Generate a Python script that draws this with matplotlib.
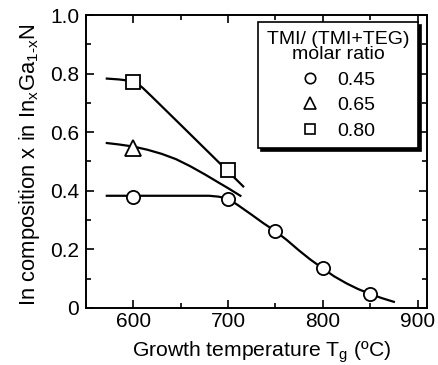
import matplotlib
matplotlib.use("Agg")
import matplotlib.pyplot as plt
from matplotlib.lines import Line2D
from matplotlib.ticker import MultipleLocator, FixedLocator

plt.rcParams["font.family"] = ["Liberation Sans", "DejaVu Sans"]
plt.rcParams["mathtext.fontset"] = "custom"
plt.rcParams["mathtext.rm"] = "Liberation Sans"
plt.rcParams["mathtext.it"] = "Liberation Sans"

# Measured In composition vs growth temperature, per TMI/(TMI+TEG) ratio
temps_045 = [600, 700, 750, 800, 850]
comp_045 = [0.378, 0.372, 0.263, 0.135, 0.048]
temps_065 = [600]
comp_065 = [0.547]
temps_080 = [600, 700]
comp_080 = [0.772, 0.470]

# Guide curves through each series
guide_045_t = [572, 600, 650, 680, 690, 700, 710, 725, 737, 750, 762, 775,
               787, 800, 812, 825, 837, 850, 862, 875]
guide_045_x = [0.383, 0.383, 0.383, 0.383, 0.380, 0.373, 0.352, 0.318, 0.290,
               0.262, 0.232, 0.196, 0.165, 0.135, 0.108, 0.084, 0.065, 0.048,
               0.034, 0.021]
guide_065_t = [572, 585, 600, 615, 630, 645, 660, 676, 690, 700, 713]
guide_065_x = [0.563, 0.558, 0.551, 0.540, 0.526, 0.508, 0.484, 0.455, 0.428,
               0.409, 0.383]
guide_080_t = [572, 585, 595, 600, 605, 610, 620, 650, 700, 716]
guide_080_x = [0.783, 0.780, 0.776, 0.772, 0.764, 0.751, 0.720, 0.625, 0.466,
               0.415]

legend_labels = ["0.45", "0.65", "0.80"]
x_ticks = [600, 700, 800, 900]
y_ticks = [0, 0.2, 0.4, 0.6, 0.8, 1.0]
y_tick_labels = ["0", "0.2", "0.4", "0.6", "0.8", "1.0"]

fig = plt.figure(figsize=(4.38, 3.65), dpi=100)
ax = fig.add_axes([0.1963, 0.1562, 0.7786, 0.8027])

lw = 1.6
for t, x in [(guide_045_t, guide_045_x), (guide_065_t, guide_065_x),
             (guide_080_t, guide_080_x)]:
    ax.plot(t, x, color="black", lw=lw, zorder=2)

mk = dict(ls="none", mfc="white", mec="black", mew=1.3, zorder=3)
ax.plot(temps_045, comp_045, marker="o", ms=9.5, **mk)
ax.plot(temps_065, comp_065, marker="^", ms=11, **mk)
ax.plot(temps_080, comp_080, marker="s", ms=10, **mk)

ax.set_xlim(550, 910)
ax.set_ylim(0, 1.0)
ax.xaxis.set_major_locator(FixedLocator(x_ticks))
ax.xaxis.set_minor_locator(MultipleLocator(50))
ax.yaxis.set_major_locator(FixedLocator(y_ticks))
ax.set_yticklabels(y_tick_labels)
ax.yaxis.set_minor_locator(MultipleLocator(0.1))

for s in ax.spines.values():
    s.set_linewidth(1.4)
ax.tick_params(which="both", direction="in", top=True, right=True,
               width=1.2, labelsize=15)
ax.tick_params(which="major", length=6)
ax.tick_params(which="minor", length=3.3)
ax.tick_params(axis="x", pad=3)
ax.tick_params(axis="y", pad=5)

ax.set_xlabel(r"Growth temperature T$_{\mathrm{g}}$ (ºC)", fontsize=15.2,
              labelpad=6)
ax.set_ylabel(r"In composition x in In$_{\mathrm{x}}$Ga$_{\mathrm{1\text{-}x}}$N",
              fontsize=15.8, labelpad=6)
ax.xaxis.label.set_x(0.515)
ax.yaxis.label.set_y(0.49)

handles = [
    Line2D([], [], marker="o", ms=7.5, ls="none", mfc="white", mec="black", mew=1.2),
    Line2D([], [], marker="^", ms=8.5, ls="none", mfc="white", mec="black", mew=1.2),
    Line2D([], [], marker="s", ms=7, ls="none", mfc="white", mec="black", mew=1.2),
]
leg = ax.legend(handles, legend_labels, title="TMI/ (TMI+TEG)\nmolar ratio",
                loc="upper right", bbox_to_anchor=(0.974, 0.976),
                borderaxespad=0, fontsize=14, title_fontsize=14,
                fancybox=False, framealpha=1, edgecolor="black",
                handlelength=1.0, handletextpad=0.9, labelspacing=0.4,
                borderpad=0.45, shadow={"color": "black", "alpha": 1})
leg.get_frame().set_linewidth(1.2)
leg.get_title().set_linespacing(0.9)
leg.get_title().set_multialignment("center")

fig.savefig("out.png", dpi=100)
